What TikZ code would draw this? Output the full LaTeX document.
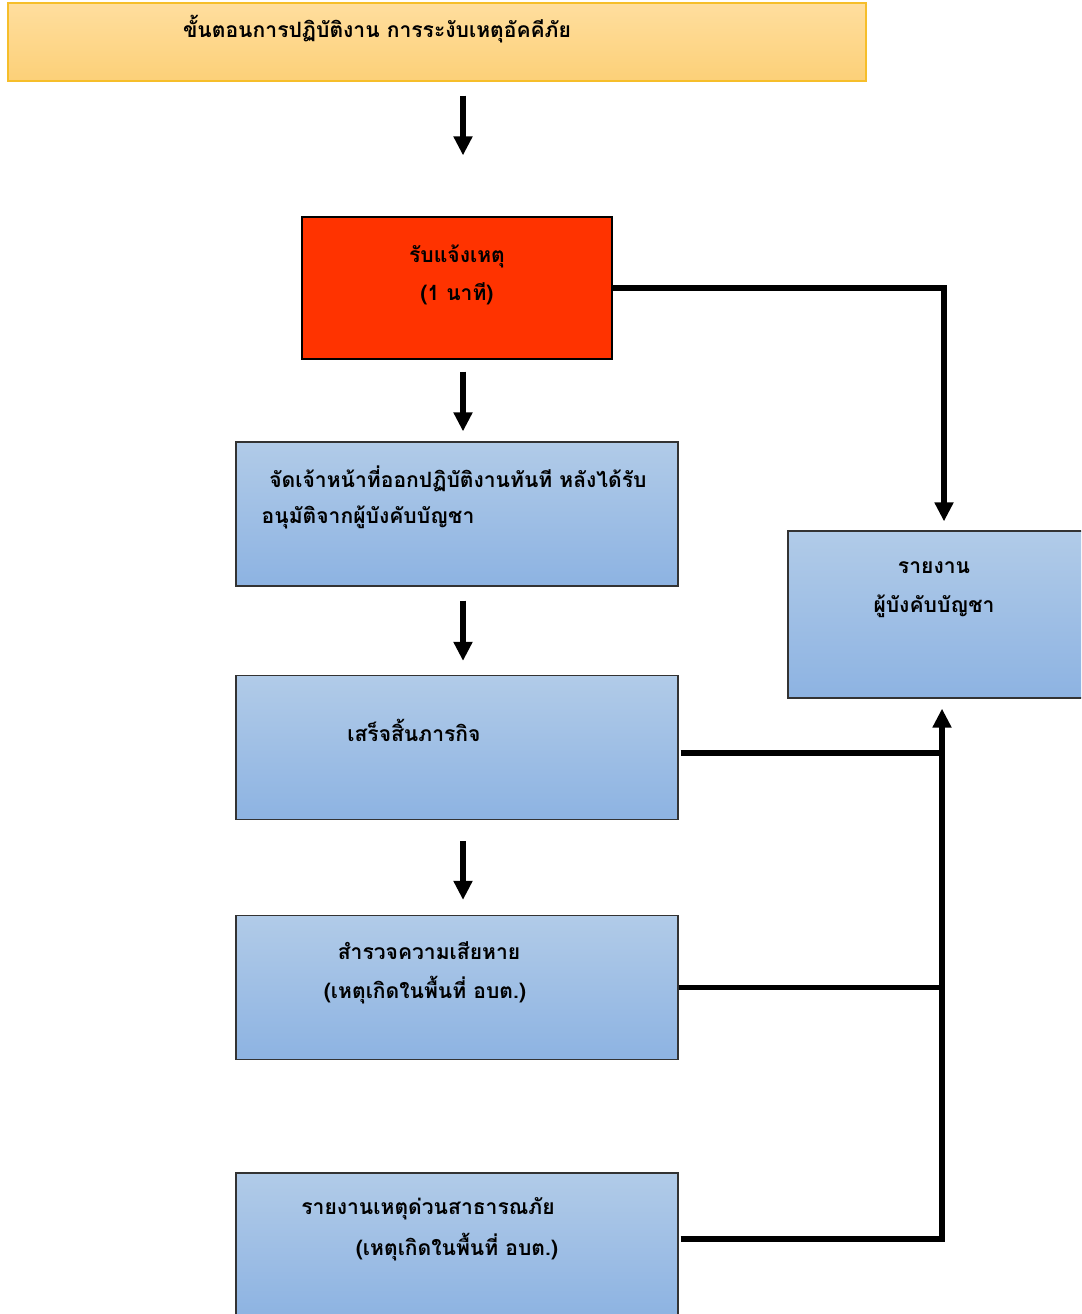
\documentclass[tikz,border=0pt]{standalone}
\usepackage{fontspec}
\newfontfamily\thaifont[Script=Thai]{Loma}
\usetikzlibrary{arrows.meta}
\usetikzlibrary{positioning}
\definecolor{boxtop}{HTML}{B1CBE8}
\definecolor{boxbottom}{HTML}{8DB3E2}
\definecolor{headtop}{HTML}{FFDE9E}
\definecolor{headbottom}{HTML}{FCD078}
\definecolor{headline}{HTML}{F6BE2A}
\definecolor{alarmred}{HTML}{FF3300}

\begin{document}
\begin{tikzpicture}[x=0.02cm, y=-0.02cm,
        stepbox/.style={draw=black!80, line width=0.7pt, top color=boxtop, bottom color=boxbottom, minimum width=8.84cm, minimum height=2.88cm, inner sep=0pt},
        headbox/.style={draw=headline, line width=0.7pt, top color=headtop, bottom color=headbottom, minimum width=17.16cm, minimum height=1.56cm, inner sep=0pt},
        alarmbox/.style={draw=black, line width=0.7pt, fill=alarmred, minimum width=6.2cm, minimum height=2.84cm, inner sep=0pt},
        thai/.style={font=\thaifont\bfseries\fontsize{12}{22}\selectfont, inner sep=0pt, align=center},
        flowline/.style={line width=3.1pt},
        flowarrow/.style={line width=3.1pt, -{Triangle[width=0.36cm,length=0.38cm]}}
      ]

    \useasboundingbox (0,0) rectangle (1081,1314);
    \clip (0,0) rectangle (1081,1314);

    % boxes
    \node[headbox] (head) at (437,42) {};
    \node[alarmbox] (alarm) at (457,288) {};
    \node[stepbox] (dispatch) at (457,514) {};
    \node[stepbox] (finish) at (457,747.5) {};
    \node[stepbox] (survey) at (457,987.5) {};
    \node[stepbox] (notify) at (457,1245) {};
    \node[stepbox, minimum width=6.24cm, minimum height=3.34cm] (report) at (944,614.5) {};
    \coordinate (spine) at (463,0);

    % texts
    \node[thai] (headtxt) at (377,29) {ขั้นตอนการปฏิบัติงาน การระงับเหตุอัคคีภัย};
    \node[thai] (alarmtxt) at (457,275) {รับแจ้งเหตุ\\(1 นาที)};
    \node[thai] (dispatchtxt1) at (458,479) {จัดเจ้าหน้าที่ออกปฏิบัติงานทันที หลังได้รับ};
    \node[thai] (dispatchtxt2) at (368,517) {อนุมัติจากผู้บังคับบัญชา};
    \node[thai] (finishtxt) at (414,730) {เสร็จสิ้นภารกิจ};
    \node[thai] (surveytxt1) at (429,951) {สำรวจความเสียหาย};
    \node[thai] (surveytxt2) at (425,990) {(เหตุเกิดในพื้นที่ อบต.)};
    \node[thai] (notifytxt1) at (428,1209) {รายงานเหตุด่วนสาธารณภัย};
    \node[thai] (notifytxt2) at (457,1247) {(เหตุเกิดในพื้นที่ อบต.)};
    \node[thai] (reporttxt) at (934,590) {รายงาน\\ผู้บังคับบัญชา};

    % main flow
    \draw[flowarrow, shorten <=0.28cm, shorten >=1.22cm] (head.south -| spine) -- (alarm.north -| spine);
    \draw[flowarrow, shorten <=0.24cm, shorten >=0.2cm] (alarm.south -| spine) -- (dispatch.north -| spine);
    \draw[flowarrow, shorten <=0.28cm, shorten >=0.28cm] (dispatch.south -| spine) -- (finish.north -| spine);
    \draw[flowarrow, shorten <=0.42cm, shorten >=0.3cm] (finish.south -| spine) -- (survey.north -| spine);

    % report side
    \draw[flowarrow, shorten >=0.18cm] (alarm.east) -| (report.north);
    \draw[flowarrow, shorten <=0.04cm, shorten >=0.2cm] ([yshift=0.12cm]notify.east) -| ([xshift=-0.04cm]report.south);
    \draw[flowline, shorten <=0.04cm] ([yshift=-0.11cm]finish.east) -- ([yshift=-0.11cm]finish.east -| report.south);
    \draw[flowline] (survey.east) -- (survey.east -| report.south);

    \end{tikzpicture}
\end{document}
